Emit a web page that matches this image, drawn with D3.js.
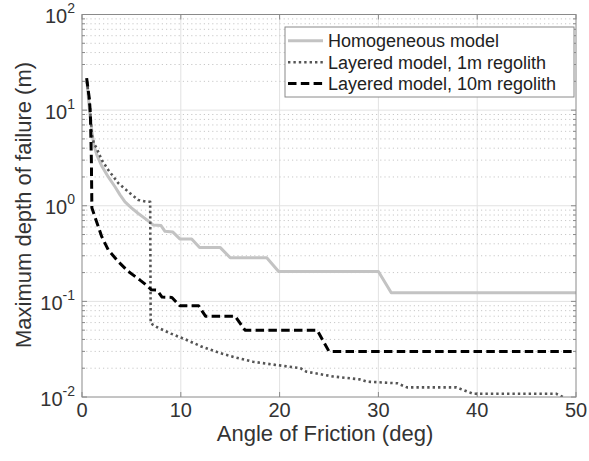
<!DOCTYPE html>
<html><head><meta charset="utf-8">
<script src="https://cdn.jsdelivr.net/npm/d3@7"></script>
<style>body{margin:0;background:#fff;} svg{display:block;font-family:"Liberation Sans",Arial,Helvetica,sans-serif;}</style>
</head><body>
<svg id="chart" width="589" height="461"></svg>
<script>
// ---- data ----
const seriesNames = ["Homogeneous model", "Layered model, 1m regolith", "Layered model, 10m regolith"];
const homX = [0.5, 0.8, 1.0, 1.2, 1.5, 2.0, 2.66, 3.34, 3.85, 4.35, 5.0, 5.7, 6.5, 7.2, 8.0, 8.4, 9.2, 9.9, 11.1, 11.9, 14.0, 15.0, 18.7, 19.9, 30.0, 31.3, 50];
const homY = [20, 9, 6, 4.3, 3.4, 2.6, 2.0, 1.58, 1.3, 1.1, 0.95, 0.83, 0.72, 0.63, 0.62, 0.54, 0.53, 0.45, 0.45, 0.365, 0.365, 0.286, 0.286, 0.205, 0.205, 0.123, 0.123];
const reg1X = [0.5, 0.8, 1.0, 1.2, 1.48, 2.0, 2.66, 3.68, 4.86, 5.7, 6.55, 6.9, 6.95, 7.55, 9.0, 10.6, 12.0, 14.0, 15.5, 17.3, 19.7, 22.1, 22.7, 25.4, 28.1, 28.8, 31.9, 32.9, 37.9, 39.6, 48.0, 48.7];
const reg1Y = [20, 11, 5.5, 4.5, 4.0, 3.0, 2.37, 1.72, 1.35, 1.15, 1.1, 1.1, 0.059, 0.054, 0.046, 0.0395, 0.034, 0.0287, 0.026, 0.0234, 0.0216, 0.0200, 0.0184, 0.0164, 0.0153, 0.0145, 0.0139, 0.0126, 0.0126, 0.0108, 0.0108, 0.0100];
const reg10X = [0.47, 0.75, 0.85, 0.95, 1.0, 1.3, 2.0, 2.66, 3.68, 4.7, 5.87, 6.7, 7.0, 7.6, 8.1, 9.1, 9.9, 11.8, 12.5, 15.5, 16.5, 23.8, 25.0, 50];
const reg10Y = [21.6, 13, 9, 3, 0.95, 0.77, 0.475, 0.345, 0.26, 0.205, 0.167, 0.143, 0.132, 0.131, 0.111, 0.11, 0.09, 0.09, 0.07, 0.07, 0.05, 0.05, 0.03, 0.03];
const xTicks = [0, 10, 20, 30, 40, 50];
const yTickExps = [-2, -1, 0, 1, 2];
const xLabel = "Angle of Friction (deg)";
const yLabel = "Maximum depth of failure (m)";

// ---- layout ----
const L = 82, R = 576, T = 14.5, B = 397;
const svg = d3.select("#chart");
const x = d3.scaleLinear().domain([0, 50]).range([L, R]);
const y = d3.scaleLog().domain([0.01, 100]).range([B, T]);

const styles = [
  {stroke: "#c3c3c3", width: 3, dash: null},
  {stroke: "#555555", width: 2.6, dash: "2.4,3"},
  {stroke: "#000000", width: 3, dash: "8.5,4.3"}
];

// grid
const minorVals = [];
for (let e = -2; e < 2; e++) for (let m = 2; m <= 9; m++) minorVals.push(m * Math.pow(10, e));
const majorVals = yTickExps.map(e => Math.pow(10, e));
const g = svg.append("g");
g.selectAll(".vg").data(xTicks.slice(1, -1)).enter().append("line")
  .attr("x1", d => x(d)).attr("x2", d => x(d)).attr("y1", T).attr("y2", B)
  .attr("stroke", "#e2e2e2").attr("stroke-width", 1);
g.selectAll(".hg").data(majorVals.slice(1, -1)).enter().append("line")
  .attr("x1", L).attr("x2", R).attr("y1", d => y(d)).attr("y2", d => y(d))
  .attr("stroke", "#e2e2e2").attr("stroke-width", 1);
g.selectAll(".mg").data(minorVals).enter().append("line")
  .attr("x1", L).attr("x2", R).attr("y1", d => y(d)).attr("y2", d => y(d))
  .attr("stroke", "#c8c8c8").attr("stroke-width", 1).attr("stroke-dasharray", "1.2,3");

// ticks (inside, all sides)
const tk = svg.append("g").attr("stroke", "#8a8a8a").attr("stroke-width", 1);
xTicks.forEach(v => {
  tk.append("line").attr("x1", x(v)).attr("x2", x(v)).attr("y1", B).attr("y2", B - 5);
  tk.append("line").attr("x1", x(v)).attr("x2", x(v)).attr("y1", T).attr("y2", T + 5);
});
majorVals.forEach(v => {
  tk.append("line").attr("x1", L).attr("x2", L + 5).attr("y1", y(v)).attr("y2", y(v));
  tk.append("line").attr("x1", R).attr("x2", R - 5).attr("y1", y(v)).attr("y2", y(v));
});
minorVals.forEach(v => {
  tk.append("line").attr("x1", L).attr("x2", L + 3).attr("y1", y(v)).attr("y2", y(v));
  tk.append("line").attr("x1", R).attr("x2", R - 3).attr("y1", y(v)).attr("y2", y(v));
});

// clip
svg.append("clipPath").attr("id", "clip").append("rect")
  .attr("x", L).attr("y", T).attr("width", R - L).attr("height", B - T);

const line = d3.line().x(d => x(d[0])).y(d => y(d[1]));
const series = [d3.zip(homX, homY), d3.zip(reg1X, reg1Y), d3.zip(reg10X, reg10Y)];
const pg = svg.append("g").attr("clip-path", "url(#clip)");
series.forEach((s, i) => {
  pg.append("path").attr("d", line(s)).attr("fill", "none")
    .attr("stroke", styles[i].stroke).attr("stroke-width", styles[i].width)
    .attr("stroke-dasharray", styles[i].dash).attr("stroke-linejoin", "round");
});

// box
svg.append("rect").attr("x", L).attr("y", T).attr("width", R - L).attr("height", B - T)
  .attr("fill", "none").attr("stroke", "#8a8a8a").attr("stroke-width", 1);

// tick labels
const tc = "#333";
svg.selectAll(".xl").data(xTicks).enter().append("text")
  .attr("x", d => x(d)).attr("y", B + 20).attr("text-anchor", "middle")
  .attr("font-size", 20).attr("fill", tc).text(d => d);
yTickExps.forEach(e => {
  const t = svg.append("text").attr("x", 75).attr("y", y(Math.pow(10, e)) + 8.5)
    .attr("text-anchor", "end").attr("font-size", 20).attr("fill", tc);
  t.append("tspan").text("10");
  t.append("tspan").attr("dy", -10).attr("font-size", 14).text(String(e).replace("-", "-"));
});

// axis titles
svg.append("text").attr("x", 325).attr("y", 441).attr("text-anchor", "middle")
  .attr("font-size", 22).attr("fill", tc).text(xLabel);
svg.append("text").attr("transform", "translate(31,205) rotate(-90)").attr("text-anchor", "middle")
  .attr("font-size", 22).attr("fill", tc).text(yLabel);

// legend
const lg = svg.append("g");
lg.append("rect").attr("x", 285).attr("y", 27).attr("width", 289).attr("height", 70)
  .attr("fill", "#fff").attr("stroke", "#8a8a8a").attr("stroke-width", 1);
const ly = [40.7, 62.2, 83.5];
seriesNames.forEach((n, i) => {
  lg.append("line").attr("x1", 288).attr("x2", 323).attr("y1", ly[i]).attr("y2", ly[i])
    .attr("stroke", styles[i].stroke).attr("stroke-width", styles[i].width)
    .attr("stroke-dasharray", styles[i].dash);
  lg.append("text").attr("x", 328).attr("y", ly[i] + 6.5).attr("font-size", 18)
    .attr("fill", "#222").text(n);
});
</script>
</body></html>
